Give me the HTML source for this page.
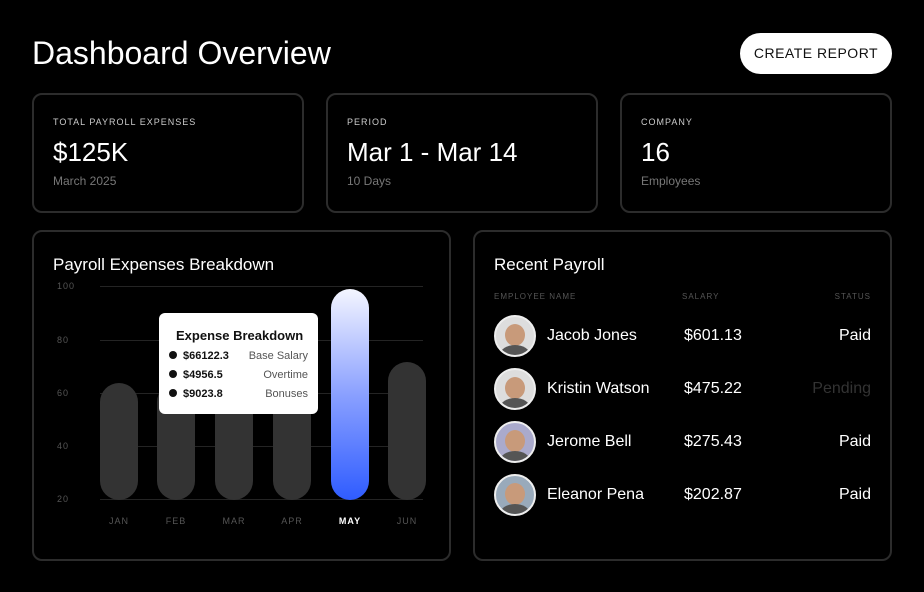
<!DOCTYPE html>
<html><head><style>
*{margin:0;padding:0;box-sizing:border-box}
body{width:924px;height:592px;background:#000;font-family:"Liberation Sans",sans-serif;color:#fff;position:relative;overflow:hidden}
.a{position:absolute;white-space:nowrap}
.card{position:absolute;border:2px solid #2c2c2c;border-radius:10px}
.lab{font-size:9px;letter-spacing:1px;color:#ccc}
.grid{position:absolute;left:100px;width:323px;height:1px;background:#242424}
.yl{position:absolute;left:57px;font-size:9px;color:#555;letter-spacing:1px}
.bar{position:absolute;width:38px;border-radius:19px;background:#333;bottom:92px}
.ml{position:absolute;top:516px;font-size:9px;color:#555;letter-spacing:1px;width:38px;text-align:center}
.av{position:absolute;left:494px;width:42px;height:42px;border-radius:50%;background:#ddd;border:2px solid #eee;overflow:hidden}
.av i{position:absolute;left:9px;top:7px;width:20px;height:22px;border-radius:50%;background:#c89a7a}
.av b{position:absolute;left:4px;top:28px;width:30px;height:20px;border-radius:50%;background:#555}
.nm{position:absolute;left:547px;font-size:16px}
.sal{position:absolute;left:684px;font-size:16px}
.st{position:absolute;right:53px;font-size:16px}
.tt{font-size:11px;color:#111}
</style></head><body>
<div class="a" style="left:32px;top:35px;font-size:32px">Dashboard Overview</div>
<div class="a" style="left:740px;top:33px;width:152px;height:41px;background:#fff;border-radius:21px;color:#111;font-size:14px;letter-spacing:.5px;text-align:center;line-height:41px">CREATE REPORT</div>

<div class="card" style="left:32px;top:93px;width:272px;height:120px"></div>
<div class="a lab" style="left:53px;top:117px">TOTAL PAYROLL EXPENSES</div>
<div class="a" style="left:53px;top:137px;font-size:26px">$125K</div>
<div class="a" style="left:53px;top:174px;font-size:12px;color:#777">March 2025</div>

<div class="card" style="left:326px;top:93px;width:272px;height:120px"></div>
<div class="a lab" style="left:347px;top:117px">PERIOD</div>
<div class="a" style="left:347px;top:137px;font-size:26px">Mar 1 - Mar 14</div>
<div class="a" style="left:347px;top:174px;font-size:12px;color:#777">10 Days</div>

<div class="card" style="left:620px;top:93px;width:272px;height:120px"></div>
<div class="a lab" style="left:641px;top:117px">COMPANY</div>
<div class="a" style="left:641px;top:137px;font-size:26px">16</div>
<div class="a" style="left:641px;top:174px;font-size:12px;color:#777">Employees</div>

<div class="card" style="left:32px;top:230px;width:419px;height:331px"></div>
<div class="a" style="left:53px;top:255px;font-size:17px">Payroll Expenses Breakdown</div>
<div class="grid" style="top:286px"></div><div class="grid" style="top:340px"></div><div class="grid" style="top:393px"></div><div class="grid" style="top:446px"></div><div class="grid" style="top:499px"></div>
<div class="yl" style="top:281px">100</div><div class="yl" style="top:335px">80</div><div class="yl" style="top:388px">60</div><div class="yl" style="top:441px">40</div><div class="yl" style="top:494px">20</div>
<div class="bar" style="left:100px;top:383px"></div>
<div class="bar" style="left:157px;top:383px"></div>
<div class="bar" style="left:215px;top:383px"></div>
<div class="bar" style="left:273px;top:383px"></div>
<div class="bar" style="left:331px;top:289px;background:linear-gradient(#f4f5ff,#8aa0ff 50%,#2f5cff)"></div>
<div class="bar" style="left:388px;top:362px"></div>
<div class="ml" style="left:100px">JAN</div><div class="ml" style="left:157px">FEB</div><div class="ml" style="left:215px">MAR</div><div class="ml" style="left:273px">APR</div><div class="ml" style="left:331px;color:#fff;font-weight:bold">MAY</div><div class="ml" style="left:388px">JUN</div>

<div class="a" style="left:159px;top:313px;width:159px;height:101px;background:#fff;border-radius:6px">
<div class="a" style="left:17px;top:15px;font-size:13px;font-weight:bold;color:#111">Expense Breakdown</div>
<div class="a tt" style="left:10px;top:37px"><span style="display:inline-block;width:8px;height:8px;border-radius:50%;background:#111;margin-right:6px"></span><b>$66122.3</b></div><div class="a tt" style="right:10px;top:37px;color:#555">Base Salary</div>
<div class="a tt" style="left:10px;top:56px"><span style="display:inline-block;width:8px;height:8px;border-radius:50%;background:#111;margin-right:6px"></span><b>$4956.5</b></div><div class="a tt" style="right:10px;top:56px;color:#555">Overtime</div>
<div class="a tt" style="left:10px;top:75px"><span style="display:inline-block;width:8px;height:8px;border-radius:50%;background:#111;margin-right:6px"></span><b>$9023.8</b></div><div class="a tt" style="right:10px;top:75px;color:#555">Bonuses</div>
</div>

<div class="card" style="left:473px;top:230px;width:419px;height:331px"></div>
<div class="a" style="left:494px;top:255px;font-size:17px">Recent Payroll</div>
<div class="a" style="left:494px;top:292px;font-size:8px;letter-spacing:1px;color:#555">EMPLOYEE NAME</div>
<div class="a" style="left:682px;top:292px;font-size:8px;letter-spacing:1px;color:#555">SALARY</div>
<div class="a" style="right:53px;top:292px;font-size:8px;letter-spacing:1px;color:#555">STATUS</div>

<div class="av" style="top:315px"><i></i><b></b></div>
<div class="a nm" style="top:327px">Jacob Jones</div><div class="a sal" style="top:327px">$601.13</div><div class="a st" style="top:327px">Paid</div>
<div class="av" style="top:368px"><i></i><b></b></div>
<div class="a nm" style="top:380px">Kristin Watson</div><div class="a sal" style="top:380px">$475.22</div><div class="a st" style="top:380px;color:#333">Pending</div>
<div class="av" style="top:421px;background:#aac"><i></i><b></b></div>
<div class="a nm" style="top:433px">Jerome Bell</div><div class="a sal" style="top:433px">$275.43</div><div class="a st" style="top:433px">Paid</div>
<div class="av" style="top:474px;background:#9ab"><i></i><b></b></div>
<div class="a nm" style="top:486px">Eleanor Pena</div><div class="a sal" style="top:486px">$202.87</div><div class="a st" style="top:486px">Paid</div>
</body></html>
